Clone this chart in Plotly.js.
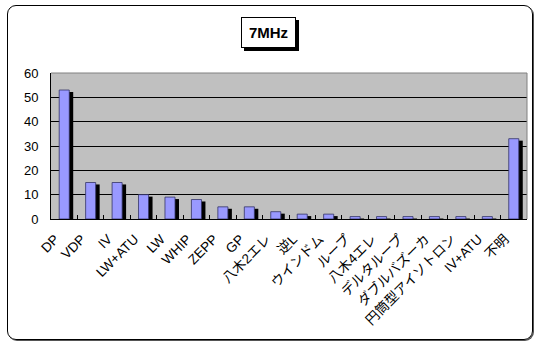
<!DOCTYPE html>
<html><head><meta charset="utf-8">
<script src="https://cdn.plot.ly/plotly-3.0.1.min.js"></script>
<style>
html,body{margin:0;padding:0;background:#fff;}
#wrap{position:relative;width:537px;height:343px;}
#chart{width:537px;height:343px;}
#frame{position:absolute;left:7px;top:5px;width:524px;height:333px;border:1px solid #000;border-radius:9px;box-shadow:1px 1px 0 #555;pointer-events:none;}
</style></head>
<body>
<div id="wrap"><div id="chart"></div><div id="frame"></div></div>
<script>
const categories = ["DP","VDP","IV","LW+ATU","LW","WHIP","ZEPP","GP","八木2エレ","逆L","ウインドム","ループ","八木4エレ","デルタループ","ダブルバズーカ","円筒型アイソトロン","IV+ATU","不明"];
const counts = [53,15,15,10,9,8,5,5,3,2,2,1,1,1,1,1,1,33];
const yTicks = [0,10,20,30,40,50,60];
const titleText = "7MHz";

const FONT = "Liberation Sans, Arial, Noto Sans CJK JP, sans-serif";
const axisHolder = {
  type:"bar", x:categories, y:counts.map(()=>null), xaxis:"x", yaxis:"y",
  hoverinfo:"skip", showlegend:false
};
const shadow = {
  type:"bar", x:categories, y:counts, xaxis:"x", yaxis:"y2",
  width:0.38, offset:-0.19+0.15,
  marker:{color:"#000000", line:{width:0}},
  hoverinfo:"skip", showlegend:false
};
const bars = {
  type:"bar", x:categories, y:counts, xaxis:"x", yaxis:"y3",
  width:0.38, offset:-0.19,
  marker:{color:"#9999ff", line:{color:"#333366", width:0.8}},
  showlegend:false
};
const layout = {
  width:537, height:343,
  margin:{l:51, r:10, t:73, b:124},
  paper_bgcolor:"#ffffff", plot_bgcolor:"#c0c0c0",
  font:{family:FONT, color:"#000", size:12},
  barmode:"overlay",
  xaxis:{type:"category", categoryarray:categories, range:[-0.5, categories.length-0.5],
    tickangle:-45, showline:true, linecolor:"#000", linewidth:1,
    ticks:"inside", tickson:"boundaries", ticklen:4, tickcolor:"#000",
    ticklabelshift:-9, ticklabelstandoff:6,
    showgrid:false, tickfont:{size:13.5, family:FONT, color:"#000"}, automargin:false, fixedrange:true},
  yaxis:{range:[0,60], tickvals:yTicks, showline:true, linecolor:"#000", linewidth:1,
    showgrid:true, gridcolor:"#000", gridwidth:1, zeroline:false, ticks:"",
    ticklabelstandoff:9,
    tickfont:{size:13, family:FONT, color:"#000"}, automargin:false, fixedrange:true},
  yaxis2:{overlaying:"y", range:[0.8,60.8], visible:false, fixedrange:true},
  yaxis3:{overlaying:"y", range:[0,60], visible:false, fixedrange:true},
  shapes:[
    {type:"line", xref:"paper", yref:"paper", x0:0, x1:1, y0:1, y1:1, line:{color:"#808080", width:1}},
    {type:"line", xref:"paper", yref:"paper", x0:1, x1:1, y0:0, y1:1, line:{color:"#808080", width:1}},
    {type:"rect", xref:"paper", yref:"paper", x0:(244-51)/476, x1:(299-51)/476, y0:(219-51)/146, y1:(219-20)/146,
      fillcolor:"#000", line:{width:0}}
  ],
  annotations:[
    {text:"<b>"+titleText+"</b>", xref:"paper", yref:"paper", x:(268.5-51)/476, y:(219-32.5)/146,
     xanchor:"center", yanchor:"middle", showarrow:false, bgcolor:"#fff", bordercolor:"#000",
     borderwidth:1, borderpad:3, width:47, height:23, font:{size:15, family:FONT, color:"#000"}}
  ]
};
Plotly.newPlot("chart", [axisHolder, shadow, bars], layout, {staticPlot:true, displayModeBar:false});
</script>
</body></html>
